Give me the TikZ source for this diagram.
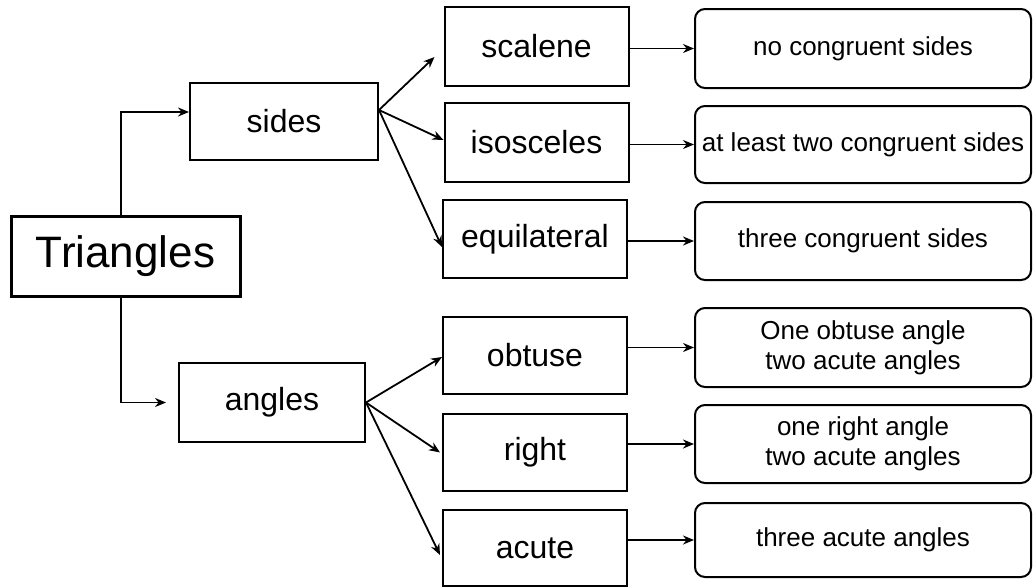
\documentclass[tikz,border=0pt]{standalone}
\usepackage{fontspec}
\setmainfont{Liberation Sans}
\usetikzlibrary{arrows.meta}
\begin{document}
\begin{tikzpicture}[x=1pt,y=-1pt,
  mainbox/.style={draw, line width=3pt, minimum width=229pt, minimum height=80pt, inner sep=0pt, font=\fontsize{44}{50}\selectfont},
  catbox/.style={draw, line width=2pt, inner sep=0pt, font=\fontsize{32}{38}\selectfont},
  typebox/.style={draw, line width=2pt, minimum width=184pt, inner sep=0pt, font=\fontsize{32}{38}\selectfont},
  descbox/.style={draw, line width=2pt, rounded corners=10pt, minimum width=336pt, inner sep=0pt, align=center, font=\fontsize{26}{30}\selectfont},
  conn/.style={line width=1.8pt, -{Stealth[length=11pt,width=9pt]}}
]
\useasboundingbox (0,0) rectangle (1033,587);

\node[mainbox] (T) at (125.5,256) {Triangles};
\node[catbox, minimum width=188pt, minimum height=77pt] (sides) at (284,121.5) {sides};
\node[catbox, minimum width=186pt, minimum height=79pt] (angles) at (272,402.5) {angles};

\node[typebox, minimum height=79pt] (scalene) at (536.5,46.5) {scalene};
\node[typebox, minimum height=79pt] (isosceles) at (536.5,142.5) {isosceles};
\node[typebox, minimum height=78pt] (equilateral) at (535,239) {equilateral};
\node[typebox, minimum height=77pt] (obtuse) at (535,355.5) {obtuse};
\node[typebox, minimum height=77pt] (right) at (535,452.5) {right};
\node[typebox, minimum height=76pt] (acute) at (535,548) {acute};

\node[descbox, minimum height=79pt] (r1) at (863,48.5) {no congruent sides};
\node[descbox, minimum height=77pt] (r2) at (863,144.5) {at least two congruent sides};
\node[descbox, minimum height=78pt] (r3) at (863,241) {three congruent sides};
\node[descbox, minimum height=79pt] (r4) at (863,347.5) {One obtuse angle\\two acute angles};
\node[descbox, minimum height=78pt] (r5) at (863,444) {one right angle\\two acute angles};
\node[descbox, minimum height=74pt] (r6) at (863,540) {three acute angles};

% Triangles to categories
\draw[conn] ([xshift=-4.5pt]T.north) |- ([yshift=9.5pt]sides.west);
\draw[conn, shorten >=12pt] ([xshift=-4.5pt]T.south) |- (angles.west);

% sides fan
\coordinate (so) at ([yshift=11.5pt]sides.east);
\draw[conn] (so) -- ([xshift=-9pt,yshift=-10.5pt]scalene.west);
\draw[conn] (so) -- ([yshift=2.5pt]isosceles.west);
\draw[conn] (so) -- ([yshift=-8pt]equilateral.west);

% angles fan
\draw[conn] (angles.east) -- ([yshift=-1.5pt]obtuse.west);
\draw[conn] (angles.east) -- ([xshift=-2pt]right.west);
\draw[conn] (angles.east) -- ([xshift=-2pt,yshift=-7pt]acute.west);

% descriptions
\draw[conn] (scalene.east |- r1.west) -- (r1.west);
\draw[conn] (isosceles.east |- r2.west) -- (r2.west);
\draw[conn] (equilateral.east |- r3.west) -- (r3.west);
\draw[conn] (obtuse.east |- r4.west) -- (r4.west);
\draw[conn] (right.east |- r5.west) -- (r5.west);
\draw[conn] (acute.east |- r6.west) -- (r6.west);
\end{tikzpicture}
\end{document}
